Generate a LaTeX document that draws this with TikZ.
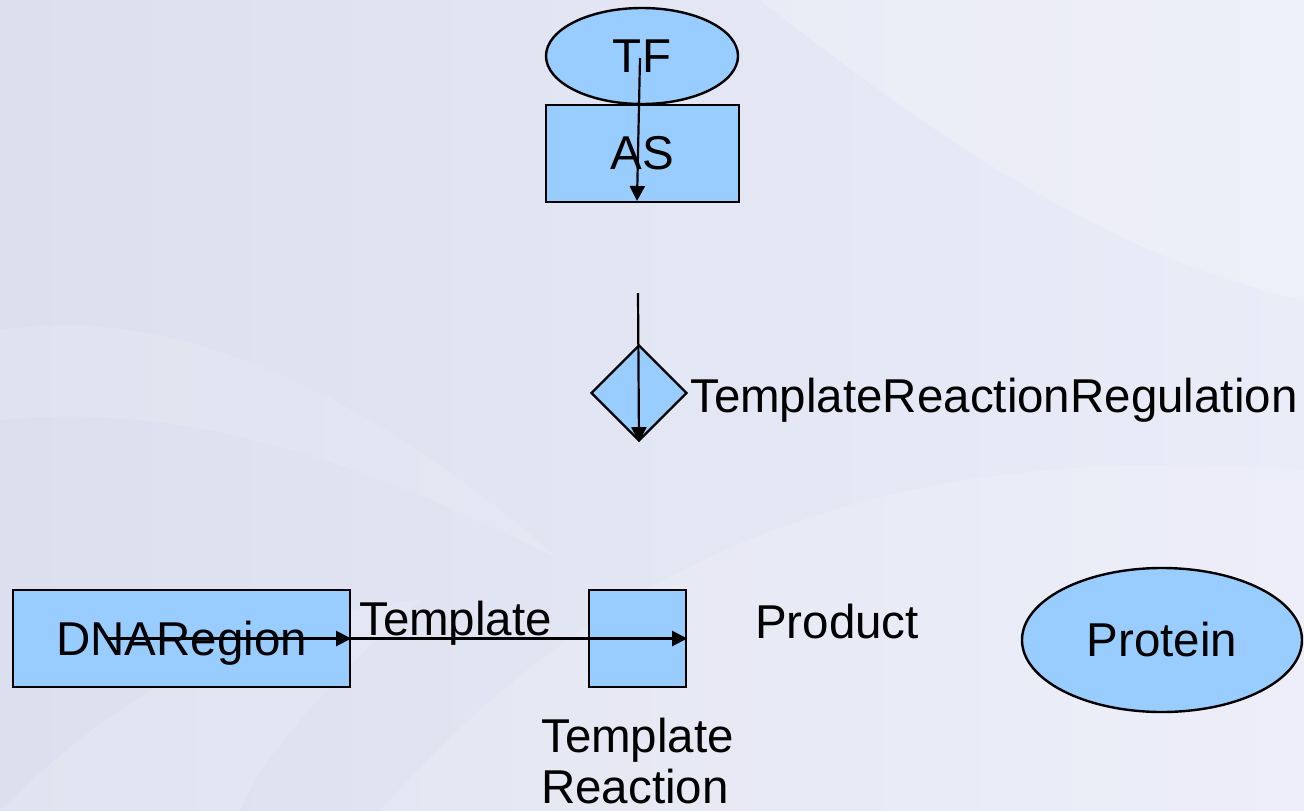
\documentclass[tikz,border=0pt]{standalone}
\usepackage{fontspec}
\setmainfont{Liberation Sans}
\usetikzlibrary{shapes.geometric,arrows.meta}
\definecolor{bgleft}{RGB}{220,223,238}
\definecolor{bgright}{RGB}{234,236,248}
\definecolor{shapefill}{RGB}{153,204,255}
\begin{document}
\begin{tikzpicture}[x=1pt,y=-1pt,
  lab/.style={font=\fontsize{47.5}{52}\selectfont, inner sep=0pt},
  boxnode/.style={draw=black, line width=2.4pt, fill=shapefill, rectangle, inner sep=0pt, font=\fontsize{47.5}{52}\selectfont},
  ovalnode/.style={draw=black, line width=2.4pt, fill=shapefill, ellipse, inner sep=0pt, font=\fontsize{47.5}{52}\selectfont},
  diamnode/.style={draw=black, line width=2.4pt, fill=shapefill, diamond, inner sep=0pt},
  arr/.style={line width=2.2pt, -{Triangle[length=15pt,width=15pt]}}
]
\useasboundingbox (0,0) rectangle (1304,811);
% background
\shade[left color=bgleft, right color=bgright] (0,0) rectangle (1304,811);
\begin{scope}
\clip (0,0) rectangle (1304,811);
\fill[white, opacity=0.22] (760,0) .. controls (950,150) and (1120,260) .. (1304,300) -- (1304,0) -- cycle;
\fill[white, opacity=0.15] (380,811) .. controls (620,540) and (900,440) .. (1304,470) -- (1304,811) -- cycle;
\fill[white, opacity=0.15] (0,811) .. controls (150,660) and (300,610) .. (420,600) .. controls (320,690) and (260,760) .. (240,811) -- cycle;
\fill[white, opacity=0.12] (0,330) .. controls (200,300) and (400,420) .. (560,560) .. controls (380,470) and (200,400) .. (0,420) -- cycle;
\end{scope}

% nodes
\node[ovalnode, minimum width=192pt, minimum height=96pt] (tf) at (642,56) {TF};
\node[boxnode, minimum width=193pt, minimum height=97pt] (as) at (642.5,153.5) {AS};
\node[diamnode, minimum width=96pt, minimum height=96pt] (rr) at (639,393) {};
\node[lab, anchor=base west] (rrlabel) at (690,412) {TemplateReactionRegulation};
\node[boxnode, minimum width=337pt, minimum height=97pt, text depth=0pt] (dna) at (181.5,638.5) {DNARegion};
\node[boxnode, minimum width=97pt, minimum height=97pt] (tr) at (637.5,638.5) {};
\node[lab, anchor=base west] (tplabel) at (359,635) {Template};
\node[lab, anchor=base west] (prod) at (755,638) {Product};
\node[ovalnode, minimum width=280pt, minimum height=144pt] (protein) at (1162,640) {Protein};
\node[lab, anchor=base west] (trlabela) at (541,752) {Template};
\node[lab, anchor=base west] (trlabelb) at (541,803) {Reaction};

% connector ends
\coordinate (tfin) at (640,58);
\coordinate (asbottom) at (637,201);
\coordinate (rrtop) at (638,293);
\coordinate (dnain) at (108,638.5);

% connectors
\draw[arr] (tfin) -- (asbottom);
\draw[arr] (rrtop) -- (rr.south);
\draw[arr] (dnain) -- (dna.east);
\draw[arr] (dna.east) -- (tr.east);
\end{tikzpicture}
\end{document}
